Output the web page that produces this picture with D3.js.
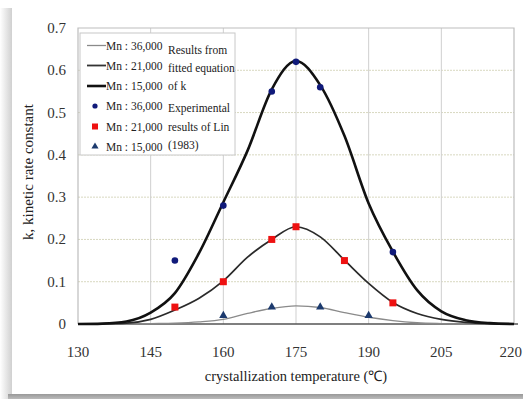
<!DOCTYPE html>
<html><head><meta charset="utf-8">
<script src="https://cdn.jsdelivr.net/npm/d3@7"></script>
<style>html,body{margin:0;padding:0;background:#fff;}svg{display:block;}</style>
</head><body>
<svg id="c" width="523" height="399"></svg>
<script>
// ---- data ----
const temps = [130,135,140,145,150,155,160,165,170,175,180,185,190,195,200,205,210,215,220];
const fitMn15000 = [0,0.001,0.006,0.027,0.073,0.168,0.288,0.41,0.555,0.622,0.565,0.445,0.285,0.171,0.08,0.03,0.009,0.002,0];
const fitMn21000 = [0,0.0005,0.002,0.011,0.033,0.061,0.102,0.158,0.2,0.23,0.206,0.151,0.096,0.051,0.025,0.011,0.004,0.001,0];
const fitMn36000 = [0,0,0,0.001,0.002,0.005,0.011,0.025,0.037,0.043,0.039,0.027,0.016,0.008,0.003,0.001,0,0,0];
const expTempCircle = [150,160,170,175,180,195];
const expCircle = [0.15,0.28,0.55,0.62,0.56,0.17];
const expTempSquare = [150,160,170,175,185,195];
const expSquare = [0.04,0.10,0.20,0.23,0.15,0.05];
const expTempTri = [160,170,180,190];
const expTri = [0.02,0.04,0.04,0.02];
const xTicks = [130,145,160,175,190,205,220];
const yTicks = [0,0.1,0.2,0.3,0.4,0.5,0.6,0.7];

const svg = d3.select('#c');
const font = '"Liberation Serif","Times New Roman",serif';

// panel with shadow
const defs = svg.append('defs');
const lg = defs.append('linearGradient').attr('id','ls').attr('x1',0).attr('x2',1);
lg.append('stop').attr('offset',0).attr('stop-color','#fff');
lg.append('stop').attr('offset',1).attr('stop-color','#d0d0d0');
svg.append('rect').attr('x',0).attr('y',8).attr('width',12).attr('height',391).attr('fill','url(#ls)');
const bg = defs.append('linearGradient').attr('id','bs').attr('x1',0).attr('x2',0).attr('y1',0).attr('y2',1);
bg.append('stop').attr('offset',0).attr('stop-color','#999');
bg.append('stop').attr('offset',1).attr('stop-color','#bbb');
svg.append('rect').attr('x',8).attr('y',394).attr('width',515).attr('height',5).attr('fill','url(#bs)');
svg.append('rect').attr('x',12).attr('y',10).attr('width',511).attr('height',384).attr('fill','#fff');

const x = d3.scaleLinear().domain([130,220]).range([78,514]);
const y = d3.scaleLinear().domain([0,0.7]).range([324,28]);

// grid
svg.append('g').selectAll('line').data(yTicks.filter(v=>v>0 && v<0.7)).join('line')
  .attr('x1',78).attr('x2',514).attr('y1',d=>y(d)).attr('y2',d=>y(d))
  .attr('stroke','#d8d8c0').attr('stroke-width',1).attr('stroke-dasharray','2,1');
svg.append('g').selectAll('line').data(xTicks.filter(v=>v>130 && v<220)).join('line')
  .attr('x1',d=>x(d)).attr('x2',d=>x(d)).attr('y1',28).attr('y2',324)
  .attr('stroke','#cfcfcf').attr('stroke-width',1);
// border
svg.append('path').attr('d',`M78,324V28H514V324`).attr('fill','none').attr('stroke','#bdbdbd').attr('stroke-width',1.2);
svg.append('line').attr('x1',78).attr('x2',518).attr('y1',324).attr('y2',324).attr('stroke','#555').attr('stroke-width',1.5);

// ticks labels
svg.append('g').selectAll('text').data(yTicks).join('text')
  .attr('x',66).attr('y',d=>y(d)+5).attr('text-anchor','end')
  .attr('font-family',font).attr('font-size',15).attr('fill','#333')
  .text(d=>d===0?'0':d3.format('.1f')(d));
svg.append('g').selectAll('text').data(xTicks).join('text')
  .attr('x',d=>d===220 ? 522 : x(d)).attr('y',357).attr('text-anchor',d=>d===220?'end':'middle')
  .attr('font-family',font).attr('font-size',15).attr('fill','#333')
  .text(d=>d);
svg.append('text').attr('x',296).attr('y',381).attr('text-anchor','middle')
  .attr('font-family',font).attr('font-size',14.5).attr('fill','#222')
  .text('crystallization temperature (℃)');
svg.append('text').attr('transform','translate(33,172) rotate(-90)').attr('text-anchor','middle')
  .attr('font-family',font).attr('font-size',15).attr('fill','#222')
  .text('k, kinetic rate constant');

// curves
const line = (vals)=>d3.line().x((d,i)=>x(temps[i])).y(d=>y(d)).curve(d3.curveMonotoneX)(vals);
const styles = [
  {vals:fitMn36000, c:'#8a8a8a', w:1.3},
  {vals:fitMn21000, c:'#2a2a2a', w:1.7},
  {vals:fitMn15000, c:'#111', w:2.6}
];
styles.forEach(s=>svg.append('path').attr('d',line(s.vals)).attr('fill','none').attr('stroke',s.c).attr('stroke-width',s.w));

// markers
const circleC = '#101a7a', triC = '#1c3a6e', sqC = '#ee1111';
svg.append('g').selectAll('circle').data(expCircle).join('circle')
  .attr('cx',(d,i)=>x(expTempCircle[i])).attr('cy',d=>y(d)).attr('r',3.3).attr('fill',circleC);
svg.append('g').selectAll('rect').data(expSquare).join('rect')
  .attr('x',(d,i)=>x(expTempSquare[i])-3.5).attr('y',d=>y(d)-3.5).attr('width',7).attr('height',7).attr('fill',sqC);
const tri = d3.symbol().type(d3.symbolTriangle).size(30);
svg.append('g').selectAll('path').data(expTri).join('path')
  .attr('transform',(d,i)=>`translate(${x(expTempTri[i])},${y(d)})`).attr('d',tri).attr('fill',triC);

// legend
const lgG = svg.append('g');
lgG.append('rect').attr('x',80).attr('y',33).attr('width',155).attr('height',122).attr('fill','#fff').attr('stroke','#c8c8c8');
const legRows = [
  {type:'line', c:'#8a8a8a', w:1.3, label:'Mn : 36,000', y:45.5},
  {type:'line', c:'#333', w:1.8, label:'Mn : 21,000', y:65.5},
  {type:'line', c:'#111', w:2.6, label:'Mn : 15,000', y:86},
  {type:'circle', label:'Mn : 36,000', y:106},
  {type:'square', label:'Mn : 21,000', y:126.5},
  {type:'tri', label:'Mn : 15,000', y:146.5}
];
legRows.forEach(r=>{
  if(r.type==='line') lgG.append('line').attr('x1',87).attr('x2',106).attr('y1',r.y).attr('y2',r.y).attr('stroke',r.c).attr('stroke-width',r.w);
  if(r.type==='circle') lgG.append('circle').attr('cx',95).attr('cy',r.y).attr('r',2.6).attr('fill',circleC);
  if(r.type==='square') lgG.append('rect').attr('x',92).attr('y',r.y-3).attr('width',6).attr('height',6).attr('fill',sqC);
  if(r.type==='tri') lgG.append('path').attr('transform',`translate(95,${r.y})`).attr('d',d3.symbol().type(d3.symbolTriangle).size(22)).attr('fill',triC);
  lgG.append('text').attr('x',106).attr('y',r.y+4).attr('font-family',font).attr('font-size',11.5).attr('fill','#222').text(r.label);
});
const rightTexts = [
  ['Results from',50],['fitted equation',67.5],['of k',85.5],
  ['Experimental',108],['results of Lin',126.5],['(1983)',145]
];
rightTexts.forEach(t=>lgG.append('text').attr('x',168).attr('y',t[1]+4).attr('font-family',font).attr('font-size',11.5).attr('fill','#222').text(t[0]));
</script>
</body></html>
